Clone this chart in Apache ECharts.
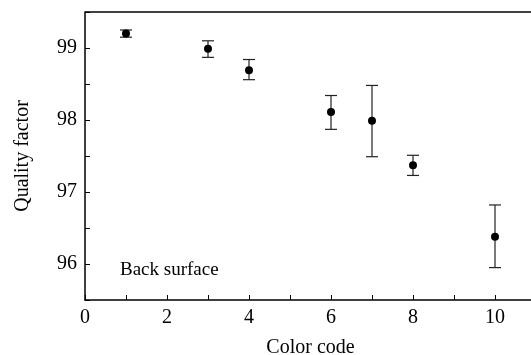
<!DOCTYPE html>
<html>
<head>
<meta charset="utf-8">
<script src="https://cdn.jsdelivr.net/npm/echarts@6/dist/echarts.min.js"></script>
<style>
  html, body { margin: 0; padding: 0; background: #fff; }
  #chart { width: 531px; height: 355px; }
</style>
</head>
<body>
<div id="chart"></div>
<script>
// data
const colorCodes = [1, 3, 4, 6, 7, 8, 10]
const quality = [99.2, 98.99, 98.69, 98.11, 97.99, 97.37, 96.38]
const errLow = [99.15, 98.87, 98.56, 97.87, 97.49, 97.23, 95.95]
const errHigh = [99.25, 99.10, 98.84, 98.34, 98.48, 97.51, 96.82]
const xTicks = [0, 2, 4, 6, 8, 10]
const yTicks = [96, 97, 98, 99]

const font = '"Liberation Serif", "Times New Roman", serif'
const chart = echarts.init(document.getElementById('chart'))

const scatterData = colorCodes.map((x, i) => [x, quality[i]])
const barData = colorCodes.map((x, i) => [x, errLow[i], errHigh[i]])

const option = {
  animation: false,
  grid: { left: 85, right: -5, top: 12, bottom: 55, outerBoundsMode: 'none', containLabel: false },
  xAxis: {
    type: 'value', min: 0, max: 11, interval: 1,
    name: 'Color code', nameLocation: 'middle', nameGap: 38,
    nameTextStyle: { fontFamily: font, fontSize: 20, color: '#000' },
    axisLine: { lineStyle: { color: '#000', width: 1.5 } },
    axisTick: { inside: true, length: 5, lineStyle: { color: '#000' } },
    axisLabel: {
      fontFamily: font, fontSize: 20, color: '#000', margin: 8,
      formatter: v => (xTicks.includes(v) ? String(v) : '')
    },
    splitLine: { show: false }
  },
  yAxis: {
    type: 'value', min: 95.5, max: 99.5, interval: 0.5,
    name: 'Quality factor', nameLocation: 'middle', nameGap: 52,
    nameTextStyle: { fontFamily: font, fontSize: 20, color: '#000' },
    axisLine: { show: true, lineStyle: { color: '#000', width: 1.5 } },
    axisTick: { inside: true, length: 5, lineStyle: { color: '#000' } },
    axisLabel: {
      fontFamily: font, fontSize: 20, color: '#000', margin: 8,
      formatter: v => (yTicks.includes(v) ? String(v) : '')
    },
    splitLine: { show: false }
  },
  graphic: [
    { type: 'line', shape: { x1: 85, y1: 12, x2: 531, y2: 12 }, style: { stroke: '#000', lineWidth: 1.5 } },
    { type: 'text', left: 120, top: 261, style: { text: 'Back surface', font: '19px ' + font, fill: '#000' } }
  ],
  series: [
    {
      type: 'custom',
      data: barData,
      renderItem: (params, api) => {
        const x = api.value(0)
        const lo = api.coord([x, api.value(1)])
        const hi = api.coord([x, api.value(2)])
        const cap = 6
        const st = { stroke: '#222', lineWidth: 1.2 }
        return {
          type: 'group',
          children: [
            { type: 'line', shape: { x1: lo[0], y1: lo[1], x2: hi[0], y2: hi[1] }, style: st },
            { type: 'line', shape: { x1: lo[0] - cap, y1: lo[1], x2: lo[0] + cap, y2: lo[1] }, style: st },
            { type: 'line', shape: { x1: hi[0] - cap, y1: hi[1], x2: hi[0] + cap, y2: hi[1] }, style: st }
          ]
        }
      },
      z: 1
    },
    {
      type: 'scatter',
      data: scatterData,
      symbol: 'circle',
      symbolSize: 8,
      itemStyle: { color: '#000', opacity: 1 },
      z: 2
    }
  ]
}
chart.setOption(option)
</script>
</body>
</html>
